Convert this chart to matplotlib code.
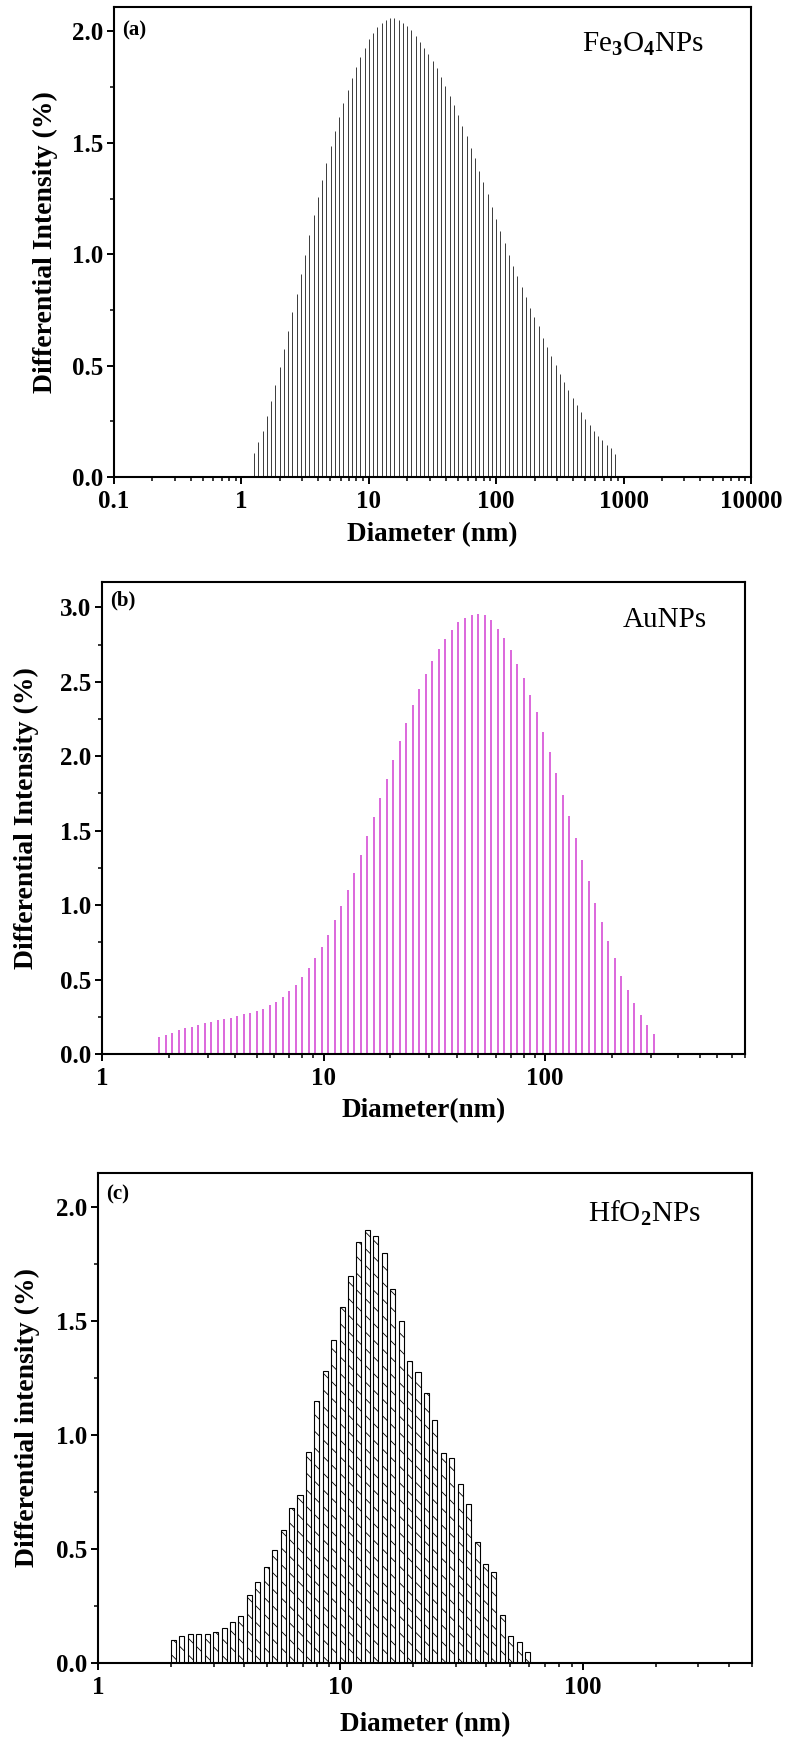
import numpy as np
import matplotlib
matplotlib.use('Agg')
import matplotlib.pyplot as plt
from matplotlib.ticker import LogLocator, FuncFormatter, MultipleLocator, AutoMinorLocator, NullFormatter

# Times-like serif, bold by default
plt.rcParams['font.family'] = ['Liberation Serif', 'DejaVu Serif']
plt.rcParams['font.weight'] = 'bold'
plt.rcParams['axes.labelweight'] = 'bold'
plt.rcParams['mathtext.fontset'] = 'custom'
plt.rcParams['mathtext.rm'] = 'Liberation Serif'
plt.rcParams['hatch.linewidth'] = 0.6

# (a) Fe3O4 NPs - diameter (nm) and differential intensity (%)
fe_diam = [1.259, 1.359, 1.468, 1.585, 1.711, 1.848, 1.995, 2.154, 2.326, 2.512,
           2.712, 2.929, 3.162, 3.415, 3.687, 3.981, 4.299, 4.642, 5.012, 5.412,
           5.843, 6.310, 6.813, 7.356, 7.943, 8.577, 9.261,
           10.00, 10.80, 11.66, 12.59, 13.59, 14.68, 15.85, 17.11, 18.48, 19.95,
           21.54, 23.26, 25.12, 27.12, 29.29, 31.62, 34.15, 36.87, 39.81, 42.99,
           46.42, 50.12, 54.12, 58.43, 63.10, 68.13, 73.56, 79.43, 85.77, 92.61,
           100.0, 108.0, 116.6, 125.9, 135.9, 146.8, 158.5, 171.1, 184.8, 199.5,
           215.4, 232.6, 251.2, 271.2, 292.9, 316.2, 341.5, 368.7, 398.1, 429.9,
           464.2, 501.2, 541.2, 584.3, 631.0, 681.3, 735.6, 794.3, 857.7]
fe_int = [0.107, 0.155, 0.208, 0.275, 0.340, 0.415, 0.495, 0.575, 0.655, 0.740,
          0.823, 0.910, 0.998, 1.086, 1.174, 1.257, 1.334, 1.410, 1.486, 1.554,
          1.618, 1.680, 1.736, 1.790, 1.840, 1.887, 1.928, 1.965, 1.995, 2.020,
          2.040, 2.053, 2.060, 2.060, 2.053, 2.040, 2.024, 2.005, 1.981, 1.954,
          1.928, 1.898, 1.869, 1.834, 1.797, 1.754, 1.712, 1.669, 1.625, 1.577,
          1.529, 1.478, 1.430, 1.374, 1.323, 1.270, 1.214, 1.158, 1.105, 1.051,
          0.998, 0.947, 0.903, 0.855, 0.810, 0.759, 0.719, 0.679, 0.626, 0.583,
          0.543, 0.503, 0.463, 0.426, 0.391, 0.356, 0.323, 0.292, 0.260, 0.232,
          0.208, 0.184, 0.165, 0.144, 0.128, 0.104]

# (b) Au NPs
au_diam = [1.810, 1.937, 2.072, 2.217, 2.373, 2.539, 2.716, 2.907, 3.110, 3.328,
           3.561, 3.810, 4.076, 4.362, 4.667, 4.994, 5.343, 5.717, 6.118, 6.546,
           7.004, 7.494, 8.019, 8.580, 9.181, 9.824, 10.51, 11.25, 12.03, 12.88,
           13.78, 14.74, 15.77, 16.88, 18.06, 19.32, 20.68, 22.12, 23.67, 25.33,
           27.10, 29.00, 31.03, 33.20, 35.53, 38.01, 40.68, 43.52, 46.57, 49.83,
           53.32, 57.05, 61.04, 65.32, 69.89, 74.78, 80.01, 85.62, 91.61, 98.02,
           104.9, 112.2, 120.1, 128.5, 137.5, 147.1, 157.4, 168.4, 180.2, 192.8,
           206.3, 220.8, 236.2, 252.8, 270.4, 289.4, 309.6]
au_int = [0.112, 0.130, 0.143, 0.159, 0.173, 0.184, 0.197, 0.206, 0.217, 0.229,
          0.235, 0.244, 0.256, 0.267, 0.274, 0.287, 0.305, 0.330, 0.352, 0.386,
          0.426, 0.464, 0.520, 0.576, 0.643, 0.722, 0.800, 0.897, 0.996, 1.103,
          1.215, 1.339, 1.462, 1.592, 1.720, 1.848, 1.973, 2.101, 2.224, 2.341,
          2.450, 2.550, 2.640, 2.720, 2.790, 2.850, 2.900, 2.930, 2.950, 2.955,
          2.946, 2.914, 2.857, 2.794, 2.714, 2.622, 2.527, 2.414, 2.295, 2.165,
          2.027, 1.890, 1.740, 1.596, 1.448, 1.303, 1.159, 1.016, 0.884, 0.759,
          0.642, 0.524, 0.430, 0.342, 0.262, 0.192, 0.135]

# (c) HfO2 NPs
hf_diam = [2.050, 2.221, 2.406, 2.607, 2.824, 3.060, 3.315, 3.592, 3.891, 4.216,
           4.567, 4.948, 5.361, 5.808, 6.292, 6.817, 7.385, 8.001, 8.669, 9.392,
           10.17, 11.02, 11.94, 12.94, 14.02, 15.19, 16.45, 17.83, 19.31, 20.92,
           22.67, 24.56, 26.61, 28.83, 31.23, 33.83, 36.66, 39.71, 43.02, 46.61,
           50.50, 54.71, 59.27]
hf_int = [0.099, 0.117, 0.126, 0.126, 0.129, 0.137, 0.155, 0.178, 0.208, 0.298,
          0.357, 0.423, 0.497, 0.585, 0.681, 0.738, 0.927, 1.148, 1.280, 1.415,
          1.560, 1.700, 1.845, 1.900, 1.875, 1.800, 1.640, 1.500, 1.325, 1.275,
          1.184, 1.066, 0.921, 0.899, 0.784, 0.697, 0.529, 0.434, 0.398, 0.210,
          0.120, 0.090, 0.050]


def plain_num(v, pos):
    return f'{v:g}'


def style_axis(ax, xlim, ylim, xlabel, ylabel, ylabel_x, xpad, panel, panel_y,
               sample, sample_xy):
    ax.set_xscale('log')
    ax.set_xlim(*xlim)
    ax.set_ylim(*ylim)
    ax.xaxis.set_major_locator(LogLocator(base=10, numticks=20))
    ax.xaxis.set_minor_locator(LogLocator(base=10, subs=np.arange(2, 10), numticks=20))
    ax.xaxis.set_major_formatter(FuncFormatter(plain_num))
    ax.xaxis.set_minor_formatter(NullFormatter())
    ax.yaxis.set_major_locator(MultipleLocator(0.5))
    ax.yaxis.set_major_formatter(FuncFormatter(lambda v, p: f'{v:.1f}'))
    ax.yaxis.set_minor_locator(AutoMinorLocator(2))
    ax.tick_params(which='major', direction='out', length=5, width=1.4,
                   labelsize=18, pad=3)
    ax.tick_params(which='minor', direction='out', length=3, width=1.1)
    ax.tick_params(axis='x', which='major', pad=4)
    for s in ax.spines.values():
        s.set_linewidth(1.5)
    ax.set_xlabel(xlabel, fontsize=19.5, labelpad=xpad)
    ax.set_ylabel(ylabel, fontsize=20)
    ax.yaxis.set_label_coords(ylabel_x, 0.5)
    ax.text(0.012, panel_y, panel, transform=ax.transAxes, fontsize=15,
            fontweight='bold', ha='left', va='top')
    ax.text(sample_xy[0], sample_xy[1], sample, transform=ax.transAxes,
            fontsize=21, fontweight='normal', ha='right', va='center')


fig = plt.figure(figsize=(7.89, 17.39), dpi=100)
ax_a = fig.add_axes([0.1445, 0.7257, 0.8074, 0.2703])
ax_b = fig.add_axes([0.1293, 0.3939, 0.8150, 0.2714])
ax_c = fig.add_axes([0.1242, 0.0437, 0.8289, 0.2818])

# (a) drop lines
ax_a.vlines(fe_diam, 0, fe_int, color='#3a3a3a', lw=0.7)
style_axis(ax_a, (0.1, 10000), (0, 2.11), 'Diameter (nm)',
           'Differential Intensity (%)', -0.088, 7, '(a)', 0.972,
           r'Fe$_3$O$_4$NPs', (0.926, 0.921))

# (b) magenta drop lines
ax_b.vlines(au_diam, 0, au_int, color='#d23fd2', lw=1.1)
style_axis(ax_b, (1, 800), (0, 3.17), 'Diameter(nm)',
           'Differential Intensity (%)', -0.098, 6, '(b)', 0.983,
           'AuNPs', (0.941, 0.92))

# (c) hatched bars, width as a fraction of the log step
hf_d = np.array(hf_diam)
half = 10 ** 0.0104
left = hf_d / half
ax_c.bar(left, hf_int, width=hf_d * half - left, align='edge',
         facecolor='white', edgecolor='black', hatch='\\\\', lw=0.8)
style_axis(ax_c, (1, 500), (0, 2.15), 'Diameter (nm)',
           'Differential intensity (%)', -0.089, 10, '(c)', 0.976,
           r'HfO$_2$NPs', (0.921, 0.918))

fig.savefig('out.png', dpi=100)
